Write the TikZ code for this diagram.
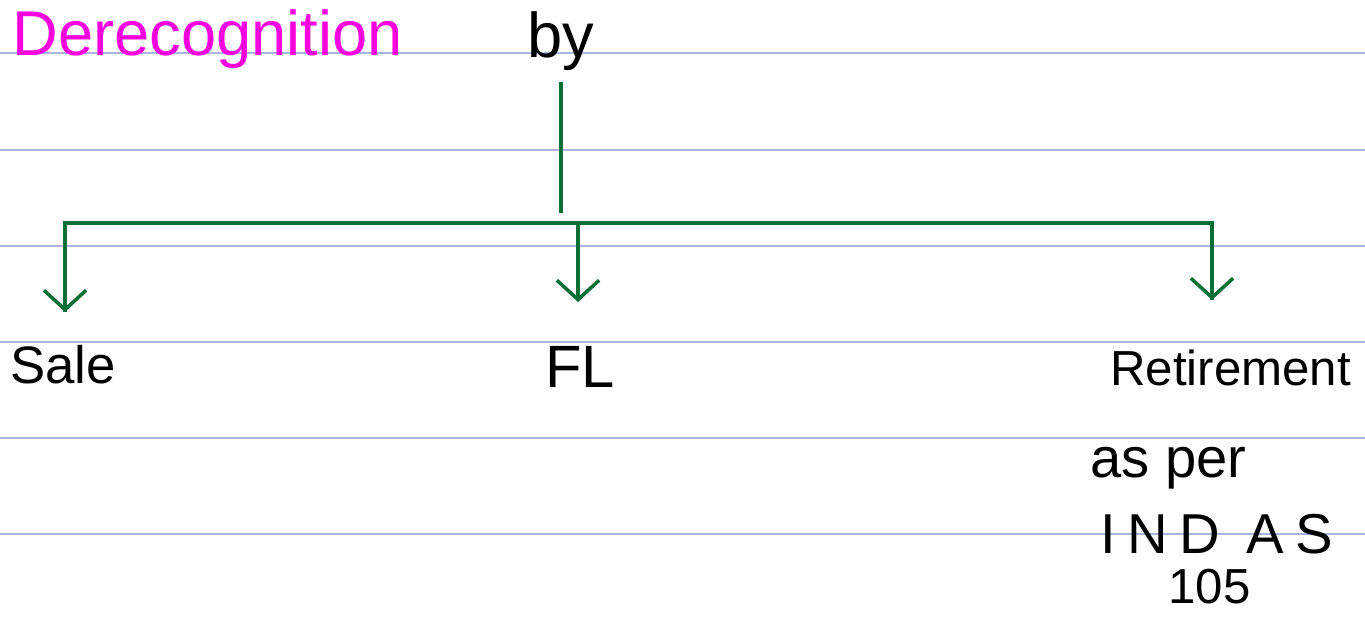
\documentclass[tikz,border=0pt]{standalone}
\usepackage{fontspec}
\setmainfont{Liberation Sans}
\newfontfamily\spacedfont[LetterSpace=20]{Liberation Sans}
\usetikzlibrary{arrows.meta}
\definecolor{inkgreen}{RGB}{10,110,55}
\definecolor{inkpink}{RGB}{250,0,225}
\definecolor{ruleblue}{RGB}{170,182,222}

\begin{document}
\begin{tikzpicture}[x=0.02cm, y=-0.02cm,
	branch/.style={draw=inkgreen, line width=2pt},
	tip/.style={-{Straight Barb[length=11pt, width=24pt, line width=2pt]}},
	ink/.style={inner sep=0pt, anchor=base west}]
	\useasboundingbox (0,0) rectangle (1365,617);
	% ruled page
	\foreach \y in {53,150,246,342,438,534}
		\draw[ruleblue, line width=0.8pt] (0,\y) -- (1365,\y);
	% heading
	\node[ink, text=inkpink, font=\fontsize{36}{40}\selectfont] (title) at (12,56) {Derecognition};
	\node[ink, font=\fontsize{36}{40}\selectfont] (by) at (527,58) {by};
	% tree
	\coordinate (stem) at (561,82);
	\coordinate (join) at (561,213);
	\coordinate (lefttop) at (65,223);
	\coordinate (righttop) at (1212,223);
	\coordinate (midtop) at (578,225);
	\coordinate (leftend) at (65,312);
	\coordinate (midend) at (578,302);
	\coordinate (rightend) at (1212,300);
	\draw[branch] (stem) -- (join);
	\draw[branch] (leftend) -- (lefttop) -- (righttop) -- (rightend);
	\draw[branch, tip] (lefttop) -- (leftend);
	\draw[branch, tip] (midtop) -- (midend);
	\draw[branch, tip] (righttop) -- (rightend);
	% branches
	\node[ink, font=\fontsize{30}{34}\selectfont] (sale) at (10,384) {Sale};
	\node[ink, font=\fontsize{34}{38}\selectfont] (fl) at (545,388) {FL};
	\node[ink, font=\fontsize{28}{32}\selectfont] (retire) at (1110,386) {Retirement};
	\node[ink, font=\fontsize{32}{36}\selectfont] (asper) at (1090,478) {as per};
	\node[ink, font=\fontsize{32}{36}\spacedfont] (indas) at (1100,554) {IND AS};
	\node[ink, font=\fontsize{28}{32}\selectfont] (num) at (1168,603) {105};
\end{tikzpicture}
\end{document}
